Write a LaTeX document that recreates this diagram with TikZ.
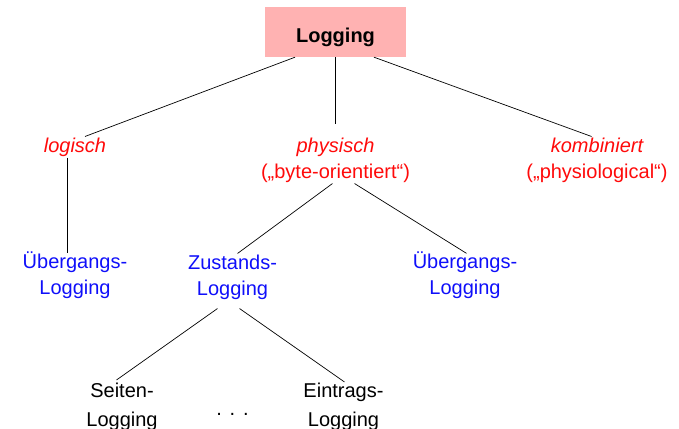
\documentclass[tikz,border=0pt]{standalone}
\usepackage{fontspec}
\setmainfont{Liberation Sans}
\usepackage{xcolor}
\usepackage{tikz}
\usetikzlibrary{positioning}

\definecolor{boxpink}{RGB}{255,178,178}
\definecolor{catred}{RGB}{255,10,10}
\definecolor{kindblue}{RGB}{15,15,250}

\begin{document}
\begin{tikzpicture}[
    on grid,
    rootbox/.style={
        rectangle,
        fill=boxpink,
        minimum width=141bp,
        minimum height=50bp,
        text height=20bp,
        text depth=0bp,
        font=\fontsize{20bp}{26bp}\selectfont\bfseries
    },
    cat/.style={
        inner sep=1bp,
        align=center,
        text=catred,
        font=\fontsize{20bp}{26bp}\selectfont
    },
    kind/.style={
        inner sep=1bp,
        align=center,
        text=kindblue,
        font=\fontsize{20bp}{26bp}\selectfont
    },
    leaf/.style={
        inner sep=1bp,
        align=center,
        font=\fontsize{20bp}{29bp}\selectfont
    },
    line/.style={
        draw=black,
        line width=0.7bp
    }
]
\useasboundingbox (0,0) rectangle (679bp,-429bp);

% Nodes
\node[rootbox] (root) at (335.5bp,-32bp) {Logging};
\node[cat, below left=115bp and 260.5bp of root] (logisch) {\itshape logisch};
\node[cat, below=128bp of root] (physisch) {\itshape physisch\\(„byte-orientiert“)};
\node[cat, right=261.5bp of physisch] (kombiniert) {\itshape kombiniert\\(„physiological“)};
\node[kind, below=128bp of logisch] (uebLog) {Übergangs-\\Logging};
\node[kind, below left=117bp and 103bp of physisch] (zustand) {Zustands-\\Logging};
\node[kind, below right=115bp and 129.5bp of physisch] (uebPhys) {Übergangs-\\Logging};
\node[leaf, below left=130bp and 110.5bp of zustand] (seiten) {Seiten-\\Logging};
\node[leaf, below right=130bp and 111bp of zustand] (eintrag) {Eintrags-\\Logging};
\node[leaf, below=137bp of zustand] (more) {.\kern7.8bp.\kern7.8bp.};

% Lines
\draw[line] ([xshift=-40.5bp]root.south) -- ([xshift=10bp]logisch.north);
\draw[line] (root.south) -- ([yshift=12bp]physisch.north);
\draw[line] ([xshift=38.5bp]root.south) -- ([xshift=-5.5bp]kombiniert.north);
\draw[line] ([xshift=-8bp]logisch.south) -- ([xshift=-8bp,yshift=-3bp]uebLog.north);
\draw[line] ([xshift=-3bp]physisch.south) -- ([xshift=5bp]zustand.north);
\draw[line] ([xshift=19bp]physisch.south) -- ([xshift=1.5bp,yshift=-3bp]uebPhys.north);
\draw[line] ([xshift=-15bp,yshift=-8bp]zustand.south) -- ([xshift=-5.5bp,yshift=2bp]seiten.north);
\draw[line] ([xshift=7bp,yshift=-8bp]zustand.south) -- ([xshift=1bp]eintrag.north);

\end{tikzpicture}
\end{document}
